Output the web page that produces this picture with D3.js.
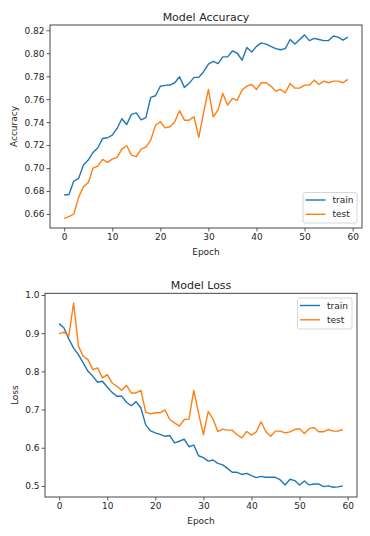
<!DOCTYPE html>
<html><head><meta charset="utf-8">
<script src="https://cdn.jsdelivr.net/npm/d3@7"></script>
<style>body{margin:0;background:#fff}svg{display:block;font-family:"DejaVu Sans",sans-serif}</style>
</head><body><svg id="c" width="370" height="536"></svg>
<script>
const epochs = d3.range(0, 60);
const accTrain = [0.6765,0.677,0.6887,0.691,0.7026,0.707,0.7136,0.7177,0.7258,0.7264,0.7287,0.7345,0.743,0.738,0.7468,0.748,0.742,0.744,0.7615,0.763,0.7713,0.772,0.7723,0.7743,0.7795,0.7703,0.7738,0.779,0.779,0.7839,0.7906,0.793,0.791,0.7968,0.7968,0.802,0.800,0.794,0.805,0.801,0.806,0.809,0.808,0.806,0.804,0.803,0.804,0.812,0.808,0.812,0.816,0.811,0.813,0.812,0.811,0.811,0.815,0.814,0.8115,0.814];
const accTest = [0.6562,0.6577,0.660,0.6745,0.6838,0.6872,0.700,0.7017,0.7075,0.705,0.7078,0.7093,0.7165,0.7194,0.7113,0.7099,0.7165,0.7183,0.7243,0.7374,0.7403,0.735,0.736,0.7404,0.7500,0.7417,0.7417,0.7447,0.7268,0.748,0.7685,0.7447,0.7505,0.765,0.7548,0.7607,0.759,0.768,0.7714,0.7728,0.7685,0.7743,0.7743,0.7714,0.767,0.7685,0.7656,0.7737,0.7696,0.7696,0.7722,0.7722,0.7766,0.7728,0.7757,0.7743,0.7757,0.7757,0.7743,0.7772];
const lossTrain = [0.925,0.9136,0.885,0.861,0.8437,0.822,0.800,0.787,0.7715,0.774,0.759,0.745,0.735,0.735,0.719,0.710,0.7207,0.704,0.660,0.644,0.639,0.635,0.630,0.632,0.6126,0.617,0.6226,0.6026,0.607,0.579,0.574,0.565,0.568,0.559,0.555,0.546,0.5357,0.5357,0.530,0.533,0.527,0.5217,0.525,0.5226,0.5226,0.5226,0.5157,0.5026,0.5174,0.514,0.5026,0.513,0.5026,0.505,0.505,0.4983,0.500,0.4965,0.4974,0.500];
const lossTest = [0.8987,0.9023,0.892,0.979,0.866,0.8395,0.8307,0.8045,0.809,0.783,0.7914,0.7696,0.761,0.7505,0.7636,0.7435,0.7435,0.7505,0.6935,0.6885,0.6915,0.6915,0.699,0.674,0.665,0.6565,0.674,0.675,0.750,0.690,0.634,0.695,0.675,0.6425,0.6487,0.646,0.646,0.634,0.626,0.6425,0.633,0.6417,0.668,0.6417,0.630,0.6435,0.6435,0.639,0.6417,0.6478,0.650,0.637,0.650,0.653,0.6417,0.6417,0.6478,0.6435,0.6435,0.6478];
const xTicks = [0,10,20,30,40,50,60];
const accTicks = [0.66,0.68,0.70,0.72,0.74,0.76,0.78,0.80,0.82];
const lossTicks = [0.5,0.6,0.7,0.8,0.9,1.0];
const seriesNames = ["train","test"];
const colors = ["#1f77b4","#ff7f0e"];

const svg = d3.select("#c");
svg.append("rect").attr("width",370).attr("height",536).attr("fill","#fff");
const txt = "#262626";

function panel(o){
  const g = svg.append("g");
  const x = d3.scaleLinear().domain([-2.95,61.95]).range([o.left,o.right]);
  const y = d3.scaleLinear().domain(o.yDomain).range([o.bottom,o.top]);
  const xa = g.append("g").attr("transform",`translate(0,${o.bottom})`)
    .call(d3.axisBottom(x).tickValues(xTicks).tickSize(3.5).tickPadding(2).tickFormat(d3.format("d")));
  const ya = g.append("g").attr("transform",`translate(${o.left},0)`)
    .call(d3.axisLeft(y).tickValues(o.yTicks).tickSize(3.5).tickPadding(2).tickFormat(d3.format(o.fmt)));
  [xa,ya].forEach(a=>{
    a.select(".domain").remove();
    a.selectAll("line").attr("stroke","#333").attr("stroke-width",0.8);
    a.selectAll("text").attr("fill",txt).attr("font-size",9).attr("font-family","DejaVu Sans");
  });
  const line = d3.line().x((d,i)=>x(epochs[i])).y(d=>y(d));
  o.series.forEach((s,k)=>{
    g.append("path").datum(s).attr("d",line).attr("fill","none")
      .attr("stroke",colors[k]).attr("stroke-width",1.4).attr("stroke-linejoin","round");
  });
  g.append("rect").attr("x",o.left).attr("y",o.top).attr("width",o.right-o.left).attr("height",o.bottom-o.top)
    .attr("fill","none").attr("stroke","#333").attr("stroke-width",0.9);
  g.append("text").attr("x",(o.left+o.right)/2).attr("y",o.titleY).attr("text-anchor","middle")
    .attr("dominant-baseline","central").attr("font-size",11).attr("fill",txt).text(o.title);
  g.append("text").attr("x",(o.left+o.right)/2).attr("y",o.xlabelY).attr("text-anchor","middle")
    .attr("dominant-baseline","central").attr("font-size",9).attr("fill",txt).text("Epoch");
  g.append("text").attr("transform",`translate(${o.ylabelX},${(o.top+o.bottom)/2}) rotate(-90)`)
    .attr("text-anchor","middle").attr("dominant-baseline","central").attr("font-size",9).attr("fill",txt).text(o.ylabel);
  // legend
  const L = o.legend;
  const lg = g.append("g");
  lg.append("rect").attr("x",L.x).attr("y",L.y).attr("width",L.w).attr("height",L.h).attr("rx",2)
    .attr("fill","#fff").attr("fill-opacity",0.8).attr("stroke","#ccc").attr("stroke-width",0.8);
  seriesNames.forEach((n,k)=>{
    const yy = L.y + 7.5 + k*14.3;
    lg.append("line").attr("x1",L.x+2.5).attr("x2",L.x+22.5).attr("y1",yy).attr("y2",yy)
      .attr("stroke",colors[k]).attr("stroke-width",1.4);
    lg.append("text").attr("x",L.x+29.5).attr("y",yy).attr("dominant-baseline","central")
      .attr("font-size",9).attr("fill",txt).text(n);
  });
}

panel({left:50,right:362,top:25,bottom:228,yDomain:[0.6478,0.8246],yTicks:accTicks,fmt:".2f",
  series:[accTrain,accTest],title:"Model Accuracy",titleY:17,xlabelY:252,ylabel:"Accuracy",ylabelX:14,
  legend:{x:303,y:192.5,w:54,h:30.5}});
panel({left:45,right:357,top:293.3,bottom:497,yDomain:[0.471,1.0044],yTicks:lossTicks,fmt:".1f",
  series:[lossTrain,lossTest],title:"Model Loss",titleY:285,xlabelY:521,ylabel:"Loss",ylabelX:15,
  legend:{x:297.5,y:298,w:54.5,h:31}});
</script></body></html>
